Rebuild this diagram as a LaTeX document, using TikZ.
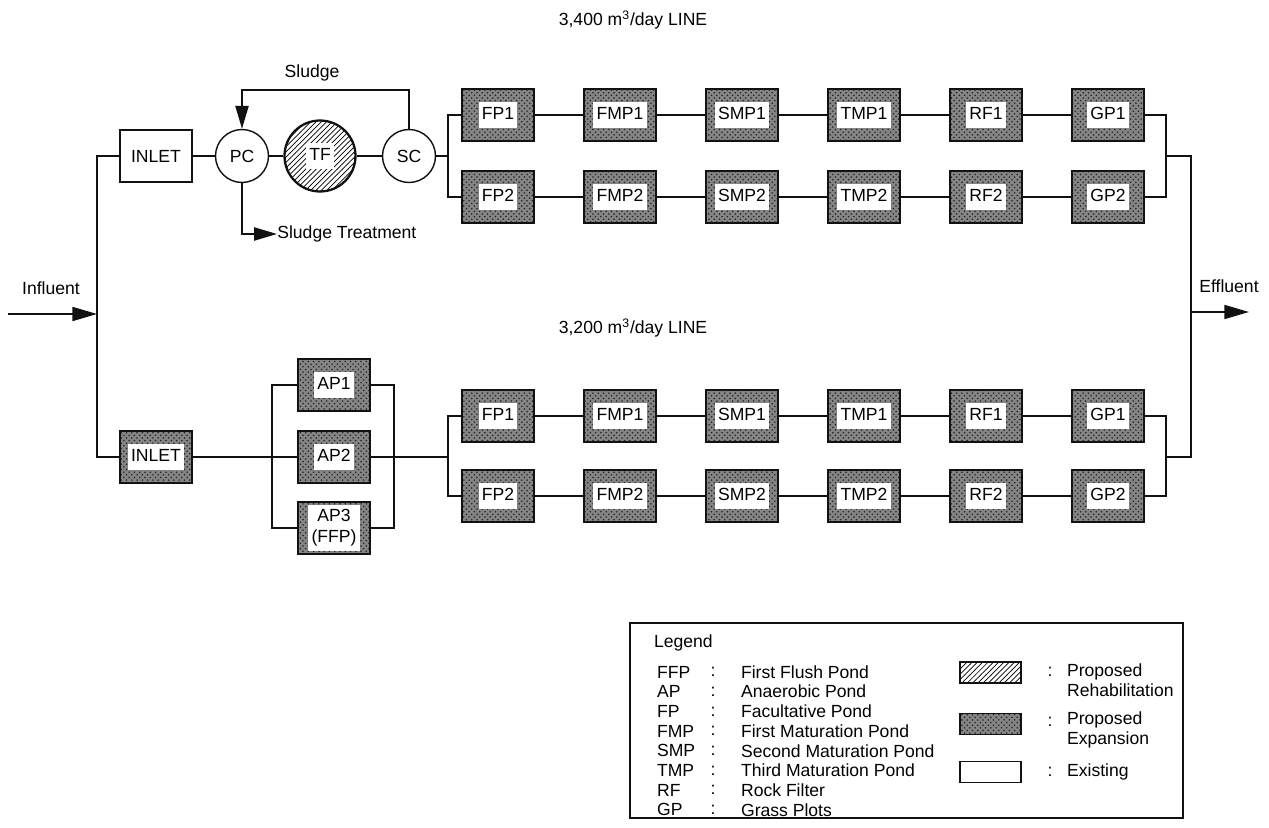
\documentclass[tikz,border=0pt]{standalone}
\usepackage{fontspec}
\setmainfont{Liberation Sans}
\usetikzlibrary{arrows.meta, patterns, calc}
\definecolor{ink}{HTML}{111111}
\definecolor{dots}{HTML}{222222}
\definecolor{shade}{HTML}{858585}
\newcommand{\boxlbl}[1]{{\setlength{\fboxsep}{1.8pt}\colorbox{white}{\begin{tabular}{@{}c@{}}#1\end{tabular}}}}
\tikzset{
  font=\fontsize{10}{11.5}\selectfont,
  >={Triangle[length=13pt, width=7.5pt]},
  %
  pipe/.style={draw=ink, line width=0.8pt},
  flow/.style={pipe, ->},
  %
  unit/.style={draw=ink, line width=0.8pt, minimum width=1.44cm,
               minimum height=1.04cm, inner sep=0pt, align=center},
  existing/.style={unit, fill=white},
  expansion/.style={unit, line width=1.4pt, fill=shade,
                    postaction={pattern=crosshatch dots, pattern color=dots}},
  clarifier/.style={circle, draw=ink, line width=0.8pt, fill=white,
                    minimum size=1.06cm, inner sep=0pt},
  rehab/.style={circle, draw=ink, line width=1.3pt, pattern=north east lines,
                minimum size=1.42cm, inner sep=0pt},
  %
  caption/.style={inner sep=1pt},
  legframe/.style={draw=ink, line width=0.8pt, minimum width=11.06cm,
                   minimum height=3.9cm, inner sep=0pt},
  swatch/.style={draw=ink, line width=0.8pt, minimum width=1.22cm,
                 minimum height=0.42cm, inner sep=0pt},
}

\begin{document}
\begin{tikzpicture}[x=0.02cm, y=-0.02cm]
\useasboundingbox (0,0) rectangle (1269,828);

% ------------------------------------------------------------ 3,400 line
\node[caption] (title1) at (633,20) {3,400 m\textsuperscript{3}/day LINE};

\node[existing] (inlet1) at (156,156) {INLET};
\node[clarifier] (pc) at (242,156) {PC};
\node[rehab] (tf) at (320,156) {\boxlbl{TF}};
\node[clarifier] (sc) at (409,156) {SC};

\node[caption] (sludge) at (312,73) {Sludge};
\coordinate (sludgetop) at (0,90);
\node[caption, anchor=west, inner sep=0pt] (sludgetr) at (277,234) {Sludge Treatment};

\draw[pipe] (inlet1) -- (pc) -- (tf) -- (sc);
\draw[flow] (sc.north) -- (sc.north |- sludgetop) -| (pc.north);
\draw[flow] (pc.south) |- (sludgetr.west);

\coordinate (s1) at (448,156);
\coordinate (m1) at (1166,156);
\coordinate (e1) at (1191,156);

% ------------------------------------------------------------ 3,200 line
\node[caption] (title2) at (633,328) {3,200 m\textsuperscript{3}/day LINE};

\node[expansion] (inlet2) at (156,457) {\boxlbl{INLET}};
\node[expansion] (ap1) at (334,385) {\boxlbl{AP1}};
\node[expansion] (ap2) at (334,457) {\boxlbl{AP2}};
\node[expansion] (ap3) at (334,528) {\boxlbl{AP3\\(FFP)}};

\coordinate (al) at (272,457);
\coordinate (ar) at (394,457);
\coordinate (s2) at (448,457);
\coordinate (m2) at (1166,457);
\coordinate (e2) at (1191,457);

\draw[pipe] (inlet2) -- (ap2) -- (s2);
\draw[pipe] (ap1.west) -| (al) |- (ap3.west);
\draw[pipe] (ap1.east) -| (ar) |- (ap3.east);

% ------------------------------------------------------------ pond rows
\foreach \nm [count=\i from 0] in {FP,FMP,SMP,TMP,RF,GP} {
  \pgfmathsetmacro\xx{498+122*\i}
  \node[expansion] (\nm1u) at (\xx,115) {\boxlbl{\nm1}};
  \node[expansion] (\nm2u) at (\xx,197) {\boxlbl{\nm2}};
  \node[expansion] (\nm1l) at (\xx,416) {\boxlbl{\nm1}};
  \node[expansion] (\nm2l) at (\xx,496) {\boxlbl{\nm2}};
}
\foreach \a/\b in {FP/FMP,FMP/SMP,SMP/TMP,TMP/RF,RF/GP} {
  \draw[pipe] (\a1u) -- (\b1u);
  \draw[pipe] (\a2u) -- (\b2u);
  \draw[pipe] (\a1l) -- (\b1l);
  \draw[pipe] (\a2l) -- (\b2l);
}

\draw[pipe] (sc.east) -- (s1);
\draw[pipe] (FP1u.west) -| (s1) |- (FP2u.west);
\draw[pipe] (FP1l.west) -| (s2) |- (FP2l.west);
\draw[pipe] (GP1u.east) -| (m1) |- (GP2u.east);
\draw[pipe] (GP1l.east) -| (m2) |- (GP2l.east);

% ------------------------------------------------------------ in / out
\node[caption] (influent) at (51,288) {Influent};
\coordinate (inf) at (8,314);
\coordinate (jl) at (97,314);
\draw[flow, >={Triangle[length=14pt, width=8pt]}] (inf) -- (jl);
\draw[pipe] (inlet1.west) -| (jl) |- (inlet2.west);

\node[caption] (effluent) at (1229,286) {Effluent};
\coordinate (jr) at (1191,312);
\coordinate (eff) at (1249,312);
\draw[pipe] (m1) -- (e1) -- (e2) -- (m2);
\draw[flow, >={Triangle[length=14pt, width=8pt]}] (jr) -- (eff);

% ------------------------------------------------------------ legend
\node[legframe] (legend) at (906.5,720.5) {};
\node[caption, anchor=west] (legtitle) at (652,643) {Legend};

\foreach \ab/\de [count=\i from 0] in {FFP/First Flush Pond,AP/Anaerobic Pond,
    FP/Facultative Pond,FMP/First Maturation Pond,SMP/Second Maturation Pond,
    TMP/Third Maturation Pond,RF/Rock Filter,GP/Grass Plots} {
  \pgfmathsetmacro\yy{672+19.7*\i}
  \node[caption, anchor=west] (ab\i) at (655,\yy) {\ab};
  \node[caption] (co\i) at (713,\yy) {:};
  \node[caption, anchor=west] (de\i) at (739,\yy) {\de};
}

\node[swatch, pattern=north east lines] (swrehab) at (990.5,672.5) {};
\node[swatch, fill=shade, postaction={pattern=crosshatch dots, pattern color=dots}]
  (swexp) at (990.5,724) {};
\node[swatch, fill=white] (swexist) at (990.5,772) {};

\node[caption] (corehab) at (1050,672) {:};
\node[caption] (coexp) at (1050,722) {:};
\node[caption] (coexist) at (1050,772) {:};
\node[caption, anchor=west, align=left] (txrehab) at (1065,680) {Proposed\\Rehabilitation};
\node[caption, anchor=west, align=left] (txexp) at (1065,730) {Proposed\\Expansion};
\node[caption, anchor=west] (txexist) at (1065,772) {Existing};

\end{tikzpicture}
\end{document}
